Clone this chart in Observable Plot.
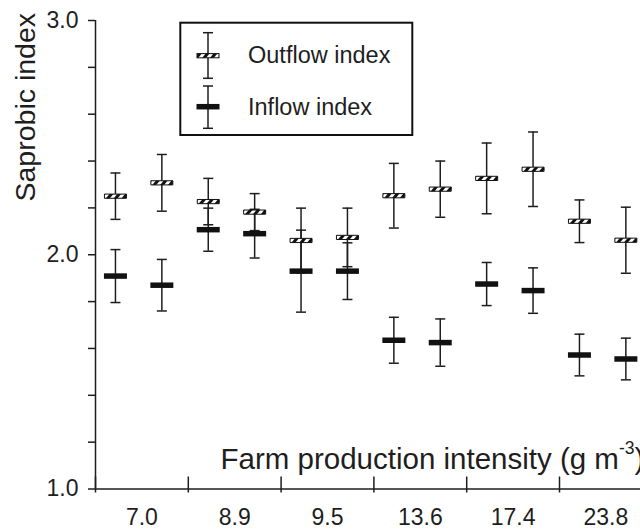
<!DOCTYPE html>
<html><head><meta charset="utf-8">
<script src="https://cdn.jsdelivr.net/npm/d3@7"></script>
<script src="https://cdn.jsdelivr.net/npm/@observablehq/plot@0.6"></script>
<style>
html,body{margin:0;padding:0;background:#fff;overflow:hidden;}
#chart{position:relative;width:640px;height:530px;}
</style></head><body><div id="chart"></div>
<script>
// ---- data ----
const categories = ["7.0", "8.9", "9.5", "13.6", "17.4", "23.8"];   // farm production intensity (g m-3)
const outflowMean = [2.25, 2.307, 2.227, 2.182, 2.061, 2.074, 2.252, 2.280, 2.326, 2.365, 2.143, 2.062];
const outflowSD   = [0.099, 0.121, 0.099, 0.079, 0.138, 0.125, 0.138, 0.120, 0.151, 0.159, 0.091, 0.141];
const inflowMean  = [1.909, 1.870, 2.107, 2.090, 1.930, 1.930, 1.635, 1.625, 1.875, 1.847, 1.572, 1.555];
const inflowSD    = [0.113, 0.110, 0.092, 0.104, 0.175, 0.121, 0.098, 0.101, 0.092, 0.097, 0.089, 0.089];
const yMajorTicks = [1.0, 2.0, 3.0];
const yMajorLabels = ["1.0", "2.0", "3.0"];
const yMinorTicks = [1.2, 1.4, 1.6, 1.8, 2.2, 2.4, 2.6, 2.8];
const yTitle = "Saprobic index";
const xTitle = "Farm production intensity (g m";
const xTitleSup = "-3";
const legendLabels = ["Outflow index", "Inflow index"];

// ---- layout helpers ----
const memberOffset = [0.215, 0.715];   // two samples within each intensity class
const rows = outflowMean.map((_, i) => ({
  pos: Math.floor(i / 2) + memberOffset[i % 2],
  out: outflowMean[i], outSD: outflowSD[i],
  inn: inflowMean[i], inSD: inflowSD[i]
}));

const ink = "#1e1e1e";
const font = "'Liberation Sans', Arial, Helvetica, sans-serif";
const cap = {draw(ctx) { ctx.moveTo(-5, 0); ctx.lineTo(5, 0); }};
const barSym = (w, h) => ({draw(ctx) { ctx.rect(-w / 2, -h / 2, w, h); }});

const plot = Plot.plot({
  width: 640, height: 530,
  marginLeft: 95, marginRight: 0, marginTop: 20, marginBottom: 41.5,
  x: {domain: [0, 6], range: [95, 95 + 6 * 92.8], axis: null, label: null},
  y: {domain: [1, 3], axis: null, label: null},
  style: {fontFamily: font, color: ink, background: "white"},
  marks: [
    // whiskers
    Plot.ruleX(rows, {x: "pos", y1: d => d.out - d.outSD, y2: d => d.out + d.outSD, stroke: ink, strokeWidth: 1.5}),
    Plot.ruleX(rows, {x: "pos", y1: d => d.inn - d.inSD, y2: d => d.inn + d.inSD, stroke: ink, strokeWidth: 1.5}),
    Plot.dot(rows, {x: "pos", y: d => d.out + d.outSD, symbol: cap, stroke: ink, strokeWidth: 1.5}),
    Plot.dot(rows, {x: "pos", y: d => d.out - d.outSD, symbol: cap, stroke: ink, strokeWidth: 1.5}),
    Plot.dot(rows, {x: "pos", y: d => d.inn + d.inSD, symbol: cap, stroke: ink, strokeWidth: 1.5}),
    Plot.dot(rows, {x: "pos", y: d => d.inn - d.inSD, symbol: cap, stroke: ink, strokeWidth: 1.5}),
    // means
    Plot.dot(rows, {x: "pos", y: "inn", symbol: barSym(23, 5.5), fill: "#111", stroke: "none"}),
    Plot.dot(rows, {x: "pos", y: "out", symbol: barSym(22, 4.2), fill: "url(#hatch)", stroke: "#111", strokeWidth: 1}),
    // axes
    Plot.ruleX([0], {stroke: ink, strokeWidth: 1.5}),
    Plot.ruleY([1], {stroke: ink, strokeWidth: 1.5}),
    Plot.axisY({ticks: yMajorTicks, tickFormat: (d, i) => yMajorLabels[i], tickSize: 7, tickPadding: 10, fontSize: 23, strokeWidth: 1.5, label: null}),
    Plot.axisY({ticks: yMinorTicks, tickFormat: () => "", tickSize: 7, strokeWidth: 1.5, label: null}),
    Plot.ruleX(d3.range(categories.length + 1), {x: d => d, y1: () => 1, y2: () => 1, insetTop: -12, insetBottom: -4, stroke: ink, strokeWidth: 1.5}),
    Plot.axisX({ticks: categories.map((_, i) => i + 0.5), tickFormat: (d, i) => categories[i], tickSize: 0, tickPadding: 19.5, fontSize: 23, label: null}),
    // titles
    Plot.text([yTitle], {frameAnchor: "top-left", dx: -61, dy: 181, rotate: -90, textAnchor: "start", lineAnchor: "bottom", fontSize: 28.5}),
    Plot.text([xTitle], {frameAnchor: "bottom-left", dx: 125, dy: -20.5, textAnchor: "start", lineAnchor: "bottom", fontSize: 29.5})
  ]
});

const svg = d3.select(plot);
// hatch pattern
const pat = svg.insert("defs", ":first-child").append("pattern")
  .attr("id", "hatch").attr("patternUnits", "userSpaceOnUse")
  .attr("width", 6).attr("height", 6).attr("patternTransform", "rotate(40)");
pat.append("rect").attr("width", 6).attr("height", 6).attr("fill", "white");
pat.append("rect").attr("width", 3).attr("height", 6).attr("fill", "#111");

// superscript in x title
svg.selectAll("text").filter(function() { return this.textContent === xTitle; }).each(function() {
  const t = d3.select(this);
  t.text(null);
  t.append("tspan").text(xTitle);
  t.append("tspan").attr("dy", -15).attr("font-size", 17.5).text(xTitleSup);
  t.append("tspan").attr("dy", 15).text(")");
});

// legend
const leg = svg.append("g").attr("font-family", font).attr("fill", ink).attr("text-anchor", "start");
leg.append("rect").attr("x", 180.3).attr("y", 22.7).attr("width", 232).attr("height", 112.3)
  .attr("fill", "white").attr("stroke", "#111").attr("stroke-width", 2);
const entries = [
  {top: 32.7, bot: 78.3, mid: 55.7, base: 63, hatch: true},
  {top: 86, bot: 128.3, mid: 106.7, base: 115, hatch: false}
];
entries.forEach((e, i) => {
  leg.append("line").attr("x1", 208).attr("x2", 208).attr("y1", e.top).attr("y2", e.bot).attr("stroke", ink).attr("stroke-width", 1.5);
  [e.top, e.bot].forEach(y => leg.append("line").attr("x1", 203).attr("x2", 213).attr("y1", y).attr("y2", y).attr("stroke", ink).attr("stroke-width", 1.5));
  if (e.hatch) {
    leg.append("rect").attr("x", 197).attr("y", e.mid - 2.1).attr("width", 22).attr("height", 4.2)
      .attr("fill", "url(#hatch)").attr("stroke", "#111").attr("stroke-width", 1);
  } else {
    leg.append("rect").attr("x", 196.5).attr("y", e.mid - 2.75).attr("width", 23).attr("height", 5.5).attr("fill", "#111");
  }
  leg.append("text").attr("x", 248).attr("y", e.base).attr("font-size", 23.5).attr("text-anchor", "start").text(legendLabels[i]);
});

document.getElementById("chart").appendChild(plot);
</script></body></html>
